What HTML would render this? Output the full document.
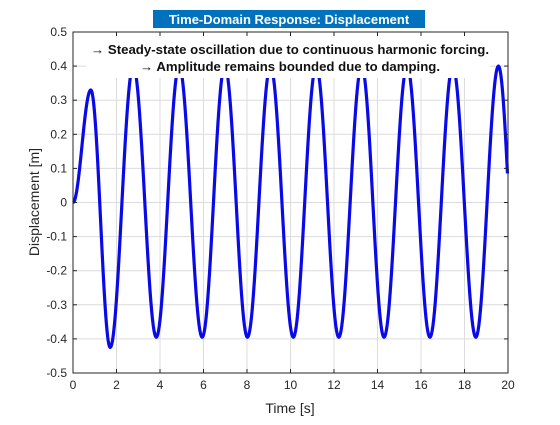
<!DOCTYPE html>
<html><head><meta charset="utf-8"><style>
body{margin:0;background:#fff;width:560px;height:420px;overflow:hidden;font-family:"Liberation Sans",Arial,sans-serif}
</style></head><body>
<svg id="chart" width="560" height="420" xmlns="http://www.w3.org/2000/svg" font-family="Liberation Sans, Arial, sans-serif">
<rect x="0" y="0" width="560" height="420" fill="#fff"/>
<rect x="73" y="32" width="435" height="341" fill="#fff"/>
<g id="grid"></g>
<g id="series"></g>
<rect x="86" y="36" width="404" height="42" fill="#fff"/>
<text x="290" y="54" font-size="13" font-weight="bold" text-anchor="middle" fill="#111" textLength="398" lengthAdjust="spacingAndGlyphs">→ Steady-state oscillation due to continuous harmonic forcing.</text>
<text x="290" y="71" font-size="13" font-weight="bold" text-anchor="middle" fill="#111" textLength="300" lengthAdjust="spacingAndGlyphs">→ Amplitude remains bounded due to damping.</text>
<rect x="73" y="32" width="435" height="341" fill="none" stroke="#262626" stroke-width="1"/>
<g id="ticks"></g>
<rect x="153" y="10" width="272" height="18" fill="#0072bd"/>
<text x="289" y="24" font-size="13" font-weight="bold" text-anchor="middle" fill="#fff">Time-Domain Response: Displacement</text>
<text x="290" y="413" font-size="14" text-anchor="middle" fill="#262626">Time [s]</text>
<text transform="translate(39,202) rotate(-90)" font-size="14" text-anchor="middle" fill="#262626">Displacement [m]</text>
</svg>
<script>
const extremaTimes = [0, 0.82, 1.71, 2.77, 3.83, 4.88, 5.94, 6.98, 8.02, 9.08, 10.13, 11.18, 12.22, 13.27, 14.30, 15.36, 16.41, 17.46, 18.52, 19.56, 20.52];
const extremaValues = [0, 0.33, -0.425, 0.40, -0.395, 0.40, -0.395, 0.40, -0.395, 0.40, -0.395, 0.40, -0.395, 0.40, -0.395, 0.40, -0.395, 0.40, -0.395, 0.40, -0.395];
const xTicks = [0,2,4,6,8,10,12,14,16,18,20];
const yTicks = [0.5,0.4,0.3,0.2,0.1,0,-0.1,-0.2,-0.3,-0.4,-0.5];
const yTickLabels = ["0.5","0.4","0.3","0.2","0.1","0","-0.1","-0.2","-0.3","-0.4","-0.5"];

const X0=73,X1=508,Y0=373,Y1=32;
const xs=t=>X0+(t-0)/(20-0)*(X1-X0);
const ys=v=>Y0-(v+0.5)/1.0*(Y0-Y1);
const NS="http://www.w3.org/2000/svg";
const grid=document.getElementById('grid'),ticks=document.getElementById('ticks'),series=document.getElementById('series');
function mk(tag,attrs,parent){const e=document.createElementNS(NS,tag);for(const k in attrs)e.setAttribute(k,attrs[k]);parent.appendChild(e);return e;}
xTicks.forEach(t=>{
  const x=xs(t);
  const g=mk('line',{x1:x,x2:x,y1:Y1,y2:Y0,stroke:'#dcdcdc','stroke-width':1},grid);
  
  
  mk('line',{x1:x,x2:x,y1:Y0,y2:Y0-4,stroke:'#262626'},ticks);
  mk('line',{x1:x,x2:x,y1:Y1,y2:Y1+4,stroke:'#262626'},ticks);
  const l=mk('text',{x:x,y:Y0+16,'font-size':12,'text-anchor':'middle',fill:'#262626'},ticks);
  l.textContent=String(t);
  
  
});
yTicks.forEach((v,i)=>{
  const y=ys(v);
  const g=mk('line',{x1:X0,x2:X1,y1:y,y2:y,stroke:'#dcdcdc','stroke-width':1},grid);
  
  
  mk('line',{x1:X0,x2:X0+4,y1:y,y2:y,stroke:'#262626'},ticks);
  mk('line',{x1:X1,x2:X1-4,y1:y,y2:y,stroke:'#262626'},ticks);
  const l=mk('text',{x:X0-6,y:y+4,'font-size':12,'text-anchor':'end',fill:'#262626'},ticks);
  l.textContent=yTickLabels[i];
  
  
});
let d='';
for(let i=0;i<extremaTimes.length-1;i++){
  const t0=extremaTimes[i],t1=extremaTimes[i+1],v0=extremaValues[i],v1=extremaValues[i+1];
  for(let k=0;k<=30;k++){
    let t=t0+(t1-t0)*k/30; if(t>20)break;
    const v=(v0+v1)/2+(v0-v1)/2*Math.cos(Math.PI*k/30);
    d+=(d?'L':'M')+xs(t).toFixed(2)+','+ys(v).toFixed(2);
  }
}
const p=mk('path',{d:d,fill:'none',stroke:'#0a0ae8','stroke-width':3.2,'stroke-linejoin':'round'},series);


</script>
</body></html>
